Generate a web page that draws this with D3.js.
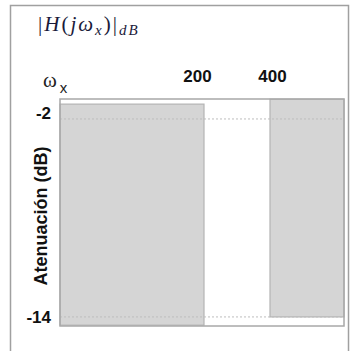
<!DOCTYPE html>
<html>
<head>
<meta charset="utf-8">
<script src="https://cdn.jsdelivr.net/npm/d3@7"></script>
<style>
  html, body { margin: 0; padding: 0; background: #fff; }
  svg { display: block; }
</style>
</head>
<body>
<svg id="chart" width="355" height="351"></svg>
<script>
// Frequency break points (rad/s) marked on the top axis
const freqTicks = [200, 400];
// Attenuation levels (dB) marked on the left axis
const attTicks = [-2, -14];
// Shaded template bands: frequency span and attenuation span
const bandStart = [0, 400];
const bandEnd = [200, 500];
const bandTop = [-1.1, -0.8];
const bandBottom = [-14.5, -14];

const svg = d3.select("#chart");

// Outer frame
svg.append("rect")
  .attr("x", 10.5).attr("y", 5.5)
  .attr("width", 338).attr("height", 350)
  .attr("fill", "none").attr("stroke", "#a0a0a0").attr("stroke-width", 1.5);

// Piecewise frequency scale: passband, transition, stopband
const x = d3.scaleLinear()
  .domain([0, 200, 400, 500])
  .range([60, 204, 270, 344]);

const y = d3.scaleLinear()
  .domain([-0.79, -14.55])
  .range([99, 326]);

// Shaded bands
const bands = bandStart.map((s, i) => ({ s, e: bandEnd[i], t: bandTop[i], b: bandBottom[i] }));
svg.append("g")
  .selectAll("rect")
  .data(bands)
  .join("rect")
  .attr("x", d => x(d.s))
  .attr("y", d => y(d.t))
  .attr("width", d => x(d.e) - x(d.s))
  .attr("height", d => y(d.b) - y(d.t))
  .attr("fill", "#d5d5d5")
  .attr("stroke", "#b4b4b4").attr("stroke-width", 1.2);

// Gridlines at the labelled attenuation levels
svg.append("g")
  .selectAll("line")
  .data(attTicks)
  .join("line")
  .attr("x1", x(0)).attr("x2", x(500))
  .attr("y1", d => y(d)).attr("y2", d => y(d))
  .attr("stroke", "#bdbdbd").attr("stroke-width", 1)
  .attr("stroke-dasharray", "2,2");

// Plot box
svg.append("rect")
  .attr("x", x(0)).attr("y", y(-0.79))
  .attr("width", x(500) - x(0)).attr("height", y(-14.55) - y(-0.79))
  .attr("fill", "none").attr("stroke", "#a8a8a8").attr("stroke-width", 1.5);

// Top frequency axis labels
const xAxis = d3.axisTop(x).tickValues(freqTicks).tickSize(0).tickPadding(0);
const gx = svg.append("g").attr("transform", "translate(0,82)").call(xAxis);
gx.select(".domain").remove();
gx.selectAll("text")
  .attr("font-family", "Liberation Sans, Arial, sans-serif")
  .attr("font-weight", "bold").attr("font-size", 17)
  .attr("fill", "#111")
  .attr("dx", d => d === 200 ? -7 : 2);

// Left attenuation axis labels
const yAxis = d3.axisLeft(y).tickValues(attTicks).tickSize(0).tickPadding(0)
  .tickFormat(d => String(d));
const gy = svg.append("g").attr("transform", "translate(51,0)").call(yAxis);
gy.select(".domain").remove();
gy.selectAll("text")
  .attr("font-family", "Liberation Sans, Arial, sans-serif")
  .attr("font-weight", "bold").attr("font-size", 17)
  .attr("fill", "#111")
  .attr("dy", d => d === -2 ? "-0.05em" : "0.32em");

// Y axis title
svg.append("text")
  .attr("transform", `translate(47,${216}) rotate(-90)`)
  .attr("text-anchor", "middle")
  .attr("font-family", "Liberation Sans, Arial, sans-serif")
  .attr("font-weight", "bold").attr("font-size", 18)
  .attr("fill", "#111")
  .text("Atenuación (dB)");

// Frequency variable label
const wx = svg.append("text")
  .attr("x", 43).attr("y", 87)
  .attr("font-family", "Liberation Serif, Times New Roman, serif")
  .attr("font-size", 21).attr("fill", "#222");
wx.append("tspan").text("ω");
wx.append("tspan").attr("dx", 3).attr("dy", 6)
  .attr("font-family", "Liberation Sans, Arial, sans-serif")
  .attr("font-size", 15).text("x");

// Magnitude title |H(jω_x)|_dB
const t = svg.append("text")
  .attr("x", 38).attr("y", 31)
  .attr("font-family", "Liberation Serif, DejaVu Serif, serif")
  .attr("font-size", 21).attr("letter-spacing", 2).attr("fill", "#1a1a3a");
t.append("tspan").text("|");
t.append("tspan").attr("font-style", "italic").text("H");
t.append("tspan").text("(");
t.append("tspan").attr("font-style", "italic").text("jω");
t.append("tspan").attr("font-style", "italic").attr("font-size", 15).attr("dy", 4).text("x");
t.append("tspan").attr("dy", -4).text(")|");
t.append("tspan").attr("font-style", "italic").attr("font-size", 15).attr("dy", 4).text("dB");
</script>
</body>
</html>
